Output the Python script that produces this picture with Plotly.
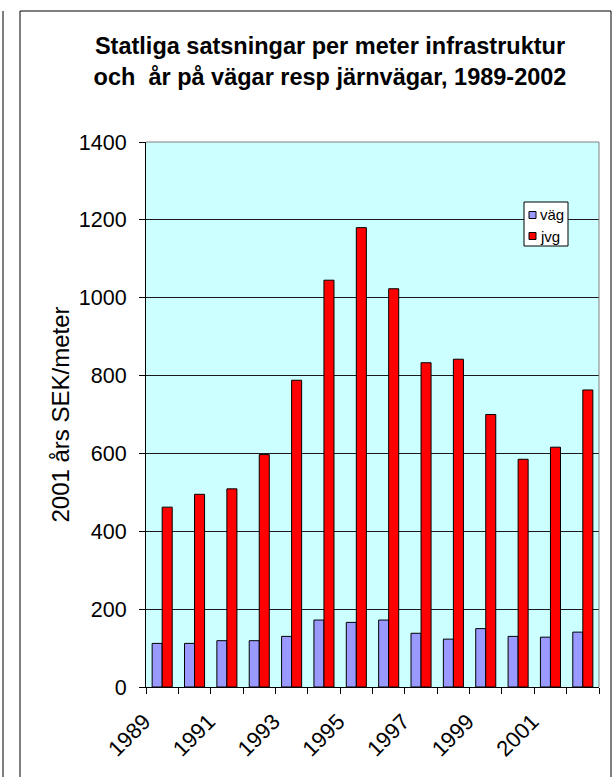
import plotly.graph_objects as go

years = [1989, 1990, 1991, 1992, 1993, 1994, 1995, 1996, 1997, 1998, 1999, 2000, 2001, 2002]
vag = [112, 112, 119, 119, 130, 172, 166, 172, 138, 123, 150, 130, 128, 141]
jvg = [462, 495, 509, 597, 788, 1045, 1180, 1023, 833, 842, 700, 585, 616, 763]
series_names = ["väg", "jvg"]
series_colors = ["#9999FF", "#FF0000"]
label_years = [1989, 1991, 1993, 1995, 1997, 1999, 2001]
label_text = [str(y) for y in label_years]
boundaries = [y - 0.5 for y in years] + [years[-1] + 0.5]
y_ticks = [0, 200, 400, 600, 800, 1000, 1200, 1400]

FONT = "Liberation Sans, Arial, sans-serif"
W, H = 612, 777
ML, MR, MT, MB = 146, 13, 142, 90
PW, PH = W - ML - MR, H - MT - MB


def px_x(px):
    return (px - ML) / PW


def px_y(py):
    return (H - MB - py) / PH


fig = go.Figure()
for name, vals, col in zip(series_names, [vag, jvg], series_colors):
    fig.add_trace(go.Bar(x=years, y=vals, name=name, showlegend=False,
                         marker=dict(color=col, line=dict(color="black", width=1))))

line = dict(color="black", width=1)
shapes = [
    dict(type="line", xref="paper", yref="paper", x0=0, x1=1, y0=1, y1=1,
         line=dict(color="#808080", width=1), layer="above"),
    dict(type="line", xref="paper", yref="paper", x0=1, x1=1, y0=0, y1=1,
         line=dict(color="#808080", width=1), layer="above"),
    dict(type="line", xref="paper", yref="paper", x0=px_x(20), x1=px_x(611),
         y0=px_y(11), y1=px_y(11), line=line),
    dict(type="line", xref="paper", yref="paper", x0=px_x(20), x1=px_x(20),
         y0=px_y(11), y1=px_y(790), line=line),
    dict(type="line", xref="paper", yref="paper", x0=px_x(611), x1=px_x(611),
         y0=px_y(11), y1=px_y(790), line=line),
    dict(type="line", xref="paper", yref="paper", x0=px_x(3), x1=px_x(3),
         y0=px_y(11), y1=px_y(790), line=line),
    # legend box
    dict(type="rect", xref="paper", yref="paper", x0=px_x(524), x1=px_x(568),
         y0=px_y(202), y1=px_y(246), fillcolor="white", line=line, layer="above"),
]
annotations = []
legend_rows = [215, 236]
for name, col, cy in zip(series_names, series_colors, legend_rows):
    shapes.append(dict(type="rect", xref="paper", yref="paper",
                       x0=px_x(529), x1=px_x(536), y0=px_y(cy - 3.5), y1=px_y(cy + 3.5),
                       fillcolor=col, line=line, layer="above"))
    annotations.append(dict(text=name, xref="paper", yref="paper",
                            x=px_x(538), y=px_y(cy), xanchor="left", yanchor="middle",
                            showarrow=False, font=dict(family=FONT, size=15, color="black")))

fig.update_layout(
    width=W, height=H, autosize=False,
    margin=dict(l=ML, r=MR, t=MT, b=MB, pad=0),
    paper_bgcolor="white",
    plot_bgcolor="#CCFFFF",
    font=dict(family=FONT, color="black"),
    barmode="group", bargap=0.38, bargroupgap=0,
    showlegend=False,
    title=dict(
        text="Statliga satsningar per meter infrastruktur<br>och \u00a0år på vägar resp järnvägar, 1989-2002",
        font=dict(family=FONT, size=23.5, color="black", weight="bold"),
        x=330 / W, xanchor="center", xref="container",
        y=1 - 54 / H, yanchor="top", yref="container",
    ),
    xaxis=dict(
        range=[years[0] - 0.5, years[-1] + 0.5],
        tickmode="array", tickvals=label_years, ticktext=label_text,
        ticks="", tickangle=-45,
        tickfont=dict(family=FONT, size=22, color="black"),
        ticklabelshift=-18, ticklabelstandoff=12,
        showline=True, linecolor="black", linewidth=1,
        showgrid=False, zeroline=False,
        minor=dict(tickmode="array", tickvals=boundaries, ticks="outside",
                   ticklen=6, tickcolor="black", tickwidth=1, showgrid=False),
    ),
    yaxis=dict(
        range=[0, 1400], tickmode="array", tickvals=y_ticks,
        ticks="outside", ticklen=6, tickcolor="black", tickwidth=1,
        tickfont=dict(family=FONT, size=21.5, color="black"),
        showline=True, linecolor="black", linewidth=1,
        showgrid=True, gridcolor="#1a1a1a", gridwidth=1,
        zeroline=False,
        ticklabelstandoff=8,
        title=dict(text="2001 års SEK/meter", font=dict(family=FONT, size=24, color="black"),
                   standoff=2),
    ),
    shapes=shapes,
    annotations=annotations,
)

fig.write_html("out.html", config={"displayModeBar": False},
               post_script="document.body.style.margin='0';document.body.style.overflow='hidden';")
